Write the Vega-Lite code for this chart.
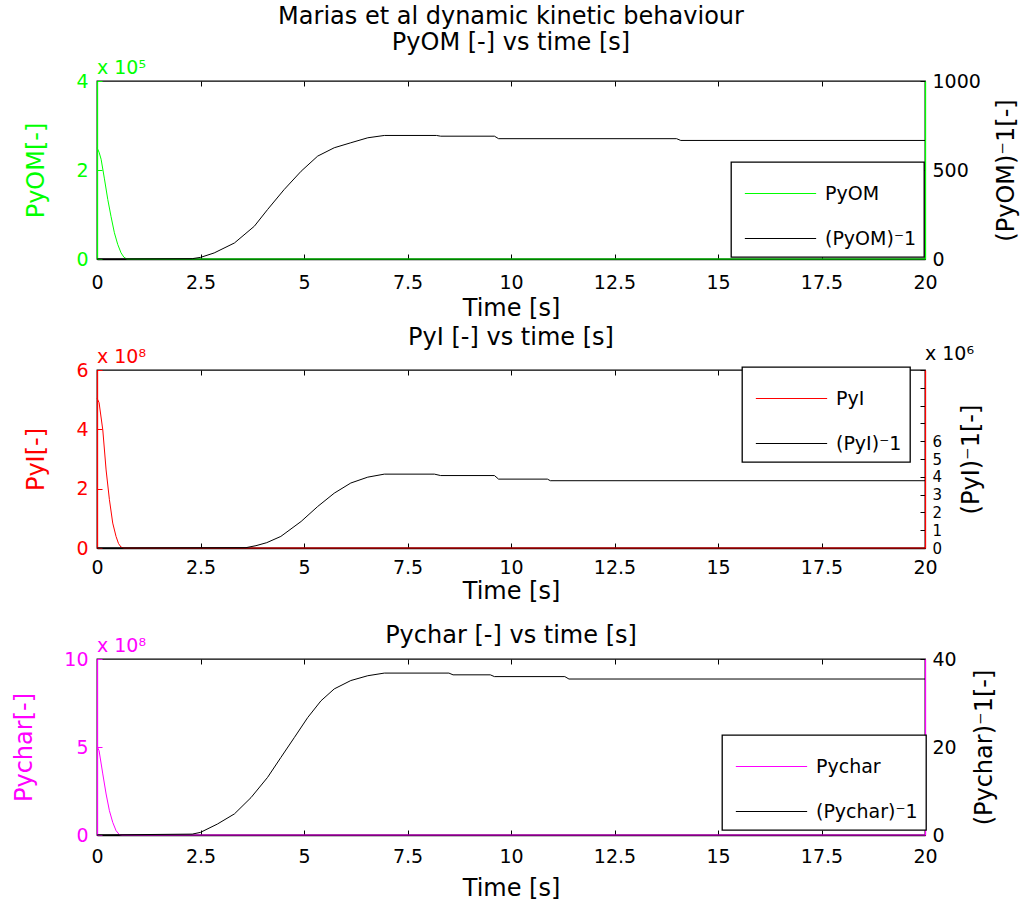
{
  "$schema": "https://vega.github.io/schema/vega-lite/v6.json",
  "padding": {"left": 12, "top": 4, "right": 0, "bottom": 0},
  "background": "white",
  "config": {
    "font": "DejaVu Sans",
    "view": {"stroke": "black", "strokeWidth": 1.3},
    "axis": {"grid": false, "labelFont": "DejaVu Sans", "labelFontSize": 19, "labelColor": "black", "titleFont": "DejaVu Sans", "titleFontSize": 24, "titleFontWeight": "normal", "titleColor": "black", "tickSize": -5, "domainWidth": 1.3, "domainColor": "black", "tickColor": "black", "labelOverlap": false, "labelFlush": false, "labelExpr": "'' + datum.value"},
    "axisX": {"labelPadding": 19, "titlePadding": 4},
    "axisY": {"labelPadding": 14},
    "legend": {"orient": "none", "strokeColor": "black", "fillColor": "white", "strokeWidth": 1.3, "padding": 8, "labelFont": "DejaVu Sans", "labelFontSize": 19, "labelColor": "black", "symbolType": "M-1.55,0H1.55", "symbolSize": 2116, "symbolStrokeWidth": 1.2, "symbolOffset": 18, "rowPadding": 11, "labelOffset": 21, "title": null},
    "title": {"font": "DejaVu Sans", "fontSize": 24, "fontWeight": "normal", "color": "black"},
    "line": {"strokeWidth": 1},
    "concat": {"spacing": 4}
  },
  "resolve": {"scale": {"color": "independent"}, "legend": {"color": "independent"}},
  "datasets": {
    "om_a": [
      {"t": 0, "v": 2.5, "s": "PyOM"}, {"t": 0.05, "v": 2.4, "s": "PyOM"}, {"t": 0.1, "v": 2.24, "s": "PyOM"}, {"t": 0.18, "v": 1.8, "s": "PyOM"}, {"t": 0.26, "v": 1.34, "s": "PyOM"}, {"t": 0.34, "v": 0.95, "s": "PyOM"}, {"t": 0.42, "v": 0.59, "s": "PyOM"}, {"t": 0.5, "v": 0.33, "s": "PyOM"}, {"t": 0.58, "v": 0.14, "s": "PyOM"}, {"t": 0.65, "v": 0.04, "s": "PyOM"}, {"t": 0.72, "v": 0.0, "s": "PyOM"}, {"t": 20, "v": 0.0, "s": "PyOM"}
    ],
    "om_b": [
      {"t": 0, "v": 0, "s": "(PyOM)⁻1"}, {"t": 2.3, "v": 2, "s": "(PyOM)⁻1"}, {"t": 2.5, "v": 9, "s": "(PyOM)⁻1"}, {"t": 2.83, "v": 34, "s": "(PyOM)⁻1"}, {"t": 3.32, "v": 90, "s": "(PyOM)⁻1"}, {"t": 3.8, "v": 184, "s": "(PyOM)⁻1"}, {"t": 4.12, "v": 278, "s": "(PyOM)⁻1"}, {"t": 4.52, "v": 390, "s": "(PyOM)⁻1"}, {"t": 4.93, "v": 493, "s": "(PyOM)⁻1"}, {"t": 5.33, "v": 578, "s": "(PyOM)⁻1"}, {"t": 5.73, "v": 625, "s": "(PyOM)⁻1"}, {"t": 6.13, "v": 653, "s": "(PyOM)⁻1"}, {"t": 6.54, "v": 681, "s": "(PyOM)⁻1"}, {"t": 6.94, "v": 694, "s": "(PyOM)⁻1"}, {"t": 8.2, "v": 694, "s": "(PyOM)⁻1"}, {"t": 8.3, "v": 690, "s": "(PyOM)⁻1"}, {"t": 9.6, "v": 690, "s": "(PyOM)⁻1"}, {"t": 9.7, "v": 676, "s": "(PyOM)⁻1"}, {"t": 14.0, "v": 676, "s": "(PyOM)⁻1"}, {"t": 14.1, "v": 666, "s": "(PyOM)⁻1"}, {"t": 20, "v": 666, "s": "(PyOM)⁻1"}
    ],
    "i_a": [
      {"t": 0, "v": 5.05, "s": "PyI"}, {"t": 0.05, "v": 4.9, "s": "PyI"}, {"t": 0.14, "v": 3.98, "s": "PyI"}, {"t": 0.22, "v": 2.63, "s": "PyI"}, {"t": 0.3, "v": 1.63, "s": "PyI"}, {"t": 0.38, "v": 0.84, "s": "PyI"}, {"t": 0.46, "v": 0.39, "s": "PyI"}, {"t": 0.52, "v": 0.15, "s": "PyI"}, {"t": 0.58, "v": 0.03, "s": "PyI"}, {"t": 0.65, "v": 0, "s": "PyI"}, {"t": 20, "v": 0, "s": "PyI"}
    ],
    "i_b": [
      {"t": 0, "v": 0, "s": "(PyI)⁻1"}, {"t": 3.6, "v": 0.02, "s": "(PyI)⁻1"}, {"t": 3.84, "v": 0.13, "s": "(PyI)⁻1"}, {"t": 4.1, "v": 0.3, "s": "(PyI)⁻1"}, {"t": 4.44, "v": 0.65, "s": "(PyI)⁻1"}, {"t": 4.93, "v": 1.49, "s": "(PyI)⁻1"}, {"t": 5.33, "v": 2.33, "s": "(PyI)⁻1"}, {"t": 5.73, "v": 3.08, "s": "(PyI)⁻1"}, {"t": 6.13, "v": 3.65, "s": "(PyI)⁻1"}, {"t": 6.54, "v": 3.98, "s": "(PyI)⁻1"}, {"t": 6.94, "v": 4.15, "s": "(PyI)⁻1"}, {"t": 8.15, "v": 4.15, "s": "(PyI)⁻1"}, {"t": 8.3, "v": 4.07, "s": "(PyI)⁻1"}, {"t": 9.6, "v": 4.07, "s": "(PyI)⁻1"}, {"t": 9.7, "v": 3.87, "s": "(PyI)⁻1"}, {"t": 10.88, "v": 3.87, "s": "(PyI)⁻1"}, {"t": 10.95, "v": 3.78, "s": "(PyI)⁻1"}, {"t": 20, "v": 3.78, "s": "(PyI)⁻1"}
    ],
    "c_a": [
      {"t": 0, "v": 5.03, "s": "Pychar"}, {"t": 0.05, "v": 4.79, "s": "Pychar"}, {"t": 0.14, "v": 3.47, "s": "Pychar"}, {"t": 0.22, "v": 2.33, "s": "Pychar"}, {"t": 0.3, "v": 1.38, "s": "Pychar"}, {"t": 0.38, "v": 0.72, "s": "Pychar"}, {"t": 0.46, "v": 0.25, "s": "Pychar"}, {"t": 0.54, "v": 0.02, "s": "Pychar"}, {"t": 0.6, "v": 0, "s": "Pychar"}, {"t": 20, "v": 0, "s": "Pychar"}
    ],
    "c_b": [
      {"t": 0, "v": 0, "s": "(Pychar)⁻1"}, {"t": 2.3, "v": 0.2, "s": "(Pychar)⁻1"}, {"t": 2.5, "v": 0.6, "s": "(Pychar)⁻1"}, {"t": 2.91, "v": 2.5, "s": "(Pychar)⁻1"}, {"t": 3.32, "v": 4.8, "s": "(Pychar)⁻1"}, {"t": 3.72, "v": 8.5, "s": "(Pychar)⁻1"}, {"t": 4.12, "v": 13.1, "s": "(Pychar)⁻1"}, {"t": 4.44, "v": 17.6, "s": "(Pychar)⁻1"}, {"t": 4.77, "v": 22.2, "s": "(Pychar)⁻1"}, {"t": 5.09, "v": 26.7, "s": "(Pychar)⁻1"}, {"t": 5.41, "v": 30.5, "s": "(Pychar)⁻1"}, {"t": 5.73, "v": 33.2, "s": "(Pychar)⁻1"}, {"t": 6.13, "v": 35.1, "s": "(Pychar)⁻1"}, {"t": 6.54, "v": 36.2, "s": "(Pychar)⁻1"}, {"t": 6.94, "v": 36.8, "s": "(Pychar)⁻1"}, {"t": 8.5, "v": 36.8, "s": "(Pychar)⁻1"}, {"t": 8.6, "v": 36.4, "s": "(Pychar)⁻1"}, {"t": 9.5, "v": 36.4, "s": "(Pychar)⁻1"}, {"t": 9.6, "v": 36.0, "s": "(Pychar)⁻1"}, {"t": 11.3, "v": 36.0, "s": "(Pychar)⁻1"}, {"t": 11.4, "v": 35.45, "s": "(Pychar)⁻1"}, {"t": 20, "v": 35.45, "s": "(Pychar)⁻1"}
    ]
  },
  "vconcat": [
    {
      "width": 828, "height": 178,
      "title": {"text": ["Marias et al dynamic kinetic behaviour", "PyOM [-] vs time [s]"], "lineHeight": 26, "offset": 4},
      "resolve": {"scale": {"y": "independent", "x": "independent"}},
      "layer": [
        {"layer": [
          {"data": {"name": "om_a"}, "mark": {"type": "line", "strokeWidth": 1},
           "encoding": {
             "x": {"field": "t", "type": "quantitative", "scale": {"domain": [0, 20], "nice": false}, "axis": {"title": "Time [s]", "values": [0, 2.5, 5, 7.5, 10, 12.5, 15, 17.5, 20], "titlePadding": 4}},
             "y": {"field": "v", "type": "quantitative", "scale": {"domain": [0, 4], "nice": false}, "axis": {"title": "PyOM[-]", "values": [0, 2, 4], "labelColor": "#00ff00", "titleColor": "#00ff00", "domainColor": "#00ff00", "tickColor": "#00ff00", "titlePadding": 27}},
             "color": {"field": "s", "type": "nominal", "scale": {"domain": ["PyOM", "(PyOM)⁻1"], "range": ["#00ff00", "black"]}, "legend": {"legendX": 634, "legendY": 81}}
           }},
          {"data": {"values": [{}]}, "mark": {"type": "text", "text": "x 10⁵", "align": "left", "baseline": "bottom", "color": "#00ff00", "font": "DejaVu Sans", "fontSize": 19, "dy": -3},
           "encoding": {"x": {"datum": 0}, "y": {"datum": 4}}}
        ]},
        {"data": {"name": "om_b"}, "mark": {"type": "line", "strokeWidth": 1},
         "encoding": {
           "x": {"field": "t", "type": "quantitative", "scale": {"domain": [0, 20], "nice": false}, "axis": {"orient": "top", "title": null, "labels": false, "domain": false, "values": [0, 2.5, 5, 7.5, 10, 12.5, 15, 17.5, 20]}},
           "y": {"field": "v", "type": "quantitative", "scale": {"domain": [0, 1000], "nice": false}, "axis": {"orient": "right", "title": "(PyOM)⁻1[-]", "titleAngle": 270, "titleBaseline": "top", "values": [0, 500, 1000], "domainColor": "#00ff00", "labelPadding": 12, "titlePadding": 14}},
           "color": {"field": "s", "type": "nominal"}
         }}
      ]
    },
    {
      "width": 828, "height": 178,
      "title": {"text": "PyI [-] vs time [s]", "offset": -5},
      "resolve": {"scale": {"y": "independent", "x": "independent"}},
      "layer": [
        {"layer": [
          {"data": {"name": "i_a"}, "mark": {"type": "line", "strokeWidth": 1},
           "encoding": {
             "x": {"field": "t", "type": "quantitative", "scale": {"domain": [0, 20], "nice": false}, "axis": {"title": "Time [s]", "values": [0, 2.5, 5, 7.5, 10, 12.5, 15, 17.5, 20], "labelPadding": 15, "titlePadding": 2}},
             "y": {"field": "v", "type": "quantitative", "scale": {"domain": [0, 6], "nice": false}, "axis": {"title": "PyI[-]", "values": [0, 1, 2, 3, 4, 5, 6], "labelColor": "#ff0000", "titleColor": "#ff0000", "domainColor": "#ff0000", "tickColor": "#ff0000", "titlePadding": 27}},
             "color": {"field": "s", "type": "nominal", "scale": {"domain": ["PyI", "(PyI)⁻1"], "range": ["#ff0000", "black"]}, "legend": {"legendX": 645, "legendY": -3}}
           }},
          {"data": {"values": [{}]}, "mark": {"type": "text", "text": "x 10⁸", "align": "left", "baseline": "bottom", "color": "#ff0000", "font": "DejaVu Sans", "fontSize": 19, "dy": -3},
           "encoding": {"x": {"datum": 0}, "y": {"datum": 6}}},
          {"data": {"values": [{}]}, "mark": {"type": "text", "text": "x 10⁶", "align": "left", "baseline": "bottom", "color": "black", "font": "DejaVu Sans", "fontSize": 19, "dy": -6},
           "encoding": {"x": {"datum": 20}, "y": {"datum": 6}}}
        ]},
        {"data": {"name": "i_b"}, "mark": {"type": "line", "strokeWidth": 1},
         "encoding": {
           "x": {"field": "t", "type": "quantitative", "scale": {"domain": [0, 20], "nice": false}, "axis": {"orient": "top", "title": null, "labels": false, "domain": false, "values": [0, 2.5, 5, 7.5, 10, 12.5, 15, 17.5, 20]}},
           "y": {"field": "v", "type": "quantitative", "scale": {"domain": [0, 10], "nice": false}, "axis": {"orient": "right", "title": "(PyI)⁻1[-]", "titleAngle": 270, "titleBaseline": "top", "values": [0, 1, 2, 3, 4, 5, 6, 7, 8, 9, 10], "labelExpr": "datum.value <= 6 ? '' + datum.value : ''", "labelOverlap": false, "labelSeparation": -6, "labelFontSize": 15, "domainColor": "#ff0000", "labelPadding": 12, "titlePadding": 18}},
           "color": {"field": "s", "type": "nominal"}
         }}
      ]
    },
    {
      "width": 828, "height": 176,
      "title": {"text": ["", "Pychar [-] vs time [s]"], "lineHeight": 15, "offset": -11},
      "resolve": {"scale": {"y": "independent", "x": "independent"}},
      "layer": [
        {"layer": [
          {"data": {"name": "c_a"}, "mark": {"type": "line", "strokeWidth": 1},
           "encoding": {
             "x": {"field": "t", "type": "quantitative", "scale": {"domain": [0, 20], "nice": false}, "axis": {"title": "Time [s]", "values": [0, 2.5, 5, 7.5, 10, 12.5, 15, 17.5, 20], "labelPadding": 17, "titlePadding": 10}},
             "y": {"field": "v", "type": "quantitative", "scale": {"domain": [0, 10], "nice": false}, "axis": {"title": "Pychar[-]", "values": [0, 5, 10], "labelColor": "#ff00ff", "titleColor": "#ff00ff", "domainColor": "#ff00ff", "tickColor": "#ff00ff", "titlePadding": 27}},
             "color": {"field": "s", "type": "nominal", "scale": {"domain": ["Pychar", "(Pychar)⁻1"], "range": ["#ff00ff", "black"]}, "legend": {"legendX": 625, "legendY": 76}}
           }},
          {"data": {"values": [{}]}, "mark": {"type": "text", "text": "x 10⁸", "align": "left", "baseline": "bottom", "color": "#ff00ff", "font": "DejaVu Sans", "fontSize": 19, "dy": -3},
           "encoding": {"x": {"datum": 0}, "y": {"datum": 10}}}
        ]},
        {"data": {"name": "c_b"}, "mark": {"type": "line", "strokeWidth": 1},
         "encoding": {
           "x": {"field": "t", "type": "quantitative", "scale": {"domain": [0, 20], "nice": false}, "axis": {"orient": "top", "title": null, "labels": false, "domain": false, "values": [0, 2.5, 5, 7.5, 10, 12.5, 15, 17.5, 20]}},
           "y": {"field": "v", "type": "quantitative", "scale": {"domain": [0, 40], "nice": false}, "axis": {"orient": "right", "title": "(Pychar)⁻1[-]", "titleAngle": 270, "titleBaseline": "top", "values": [0, 20, 40], "domainColor": "#ff00ff", "labelPadding": 12, "titlePadding": 16}},
           "color": {"field": "s", "type": "nominal"}
         }}
      ]
    }
  ]
}
